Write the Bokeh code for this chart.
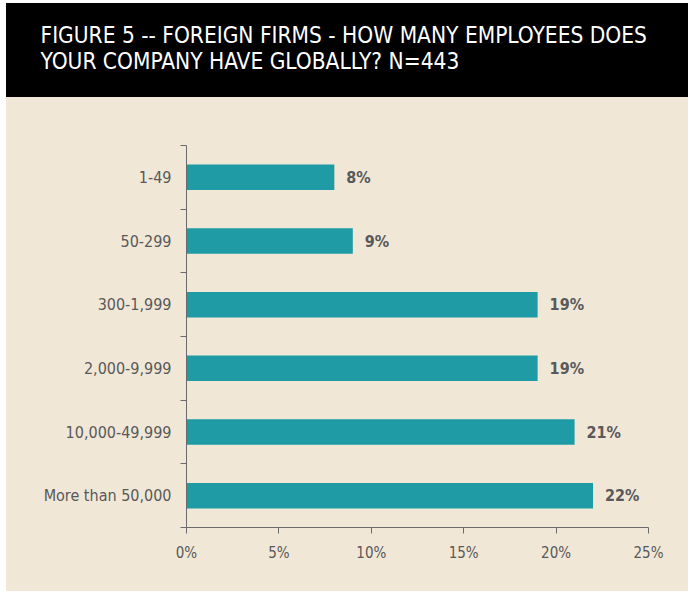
from bokeh.plotting import figure
from bokeh.layouts import column
from bokeh.models import Range1d, FixedTicker, PrintfTickFormatter, Title
from bokeh.core.properties import value
from bokeh.embed import file_html
from bokeh.resources import INLINE

title_lines = ["FIGURE 5 -- FOREIGN FIRMS - HOW MANY EMPLOYEES DOES",
               "YOUR COMPANY HAVE GLOBALLY? N=443"]
categories = ["1-49", "50-299", "300-1,999", "2,000-9,999", "10,000-49,999", "More than 50,000"]
values = [8, 9, 19, 19, 21, 22]
x_ticks = [0, 5, 10, 15, 20, 25]

FONT = "Liberation Sans Narrow, DejaVu Sans Condensed, sans-serif"
BEIGE = "#f1e7d6"
TEAL = "#1e9ba4"
GREY = "#58595b"
AXIS = "#6a6a6a"

W = 682
LEFT = 180
RIGHT = 40

# header band
HH = 94
h = figure(width=W, height=HH, x_range=Range1d(0, 1), y_range=Range1d(0, 1),
           output_backend="svg", toolbar_location=None,
           x_axis_location=None, y_axis_location=None,
           background_fill_color="black", border_fill_color="black",
           min_border_left=LEFT, min_border_right=RIGHT, min_border_top=70, min_border_bottom=0,
           outline_line_color=None)
h.styles = {"background-color": "black"}
h.grid.visible = False
h.add_layout(Title(text="\n".join(title_lines), align="left", offset=-146,
                   vertical_align="bottom",
                   text_color="white", text_font=FONT, text_font_size="22.5px",
                   text_font_style="normal", text_line_height=1.0, standoff=0), "above")

# chart
n = len(categories)
ypos = [n - i for i in range(n)]
bounds = [i + 0.5 for i in range(n + 1)]

p = figure(width=W, height=494, x_range=Range1d(0, 25), y_range=Range1d(0.5, n + 0.5),
           output_backend="svg", toolbar_location=None,
           background_fill_color=BEIGE, border_fill_color=BEIGE,
           min_border_left=LEFT, min_border_right=RIGHT, min_border_top=48, min_border_bottom=64,
           outline_line_color=None)
p.styles = {"background-color": BEIGE}
p.grid.visible = False

p.hbar(y=ypos, right=values, left=0, height=0.4, fill_color=TEAL, line_color=None)
p.text(x=values, y=ypos, text=[f"{v}%" for v in values], x_offset=12,
       text_baseline="middle", text_align="left", text_color=GREY,
       text_font=value(FONT), text_font_size="16px", text_font_style="bold")

ya = p.yaxis[0]
ya.ticker = FixedTicker(ticks=ypos, minor_ticks=bounds)
ya.major_label_overrides = {y: c for y, c in zip(ypos, categories)}
ya.major_tick_line_color = None
ya.major_tick_out = 0
ya.major_tick_in = 0
ya.minor_tick_out = 6
ya.minor_tick_in = 0
ya.minor_tick_line_color = AXIS
ya.axis_line_color = AXIS
ya.major_label_standoff = 9
ya.major_label_text_font = FONT
ya.major_label_text_font_size = "16px"
ya.major_label_text_color = GREY

xa = p.xaxis[0]
xa.ticker = FixedTicker(ticks=x_ticks)
xa.formatter = PrintfTickFormatter(format="%d%%")
xa.major_tick_out = 6
xa.major_tick_in = 0
xa.minor_tick_line_color = None
xa.major_tick_line_color = AXIS
xa.axis_line_color = AXIS
xa.major_label_standoff = 10
xa.major_label_text_font = FONT
xa.major_label_text_font_size = "15px"
xa.major_label_text_color = GREY

layout = column(h, p, spacing=0, margin=(3, 0, 0, 6))
open("out.html", "w").write(file_html(layout, INLINE))
